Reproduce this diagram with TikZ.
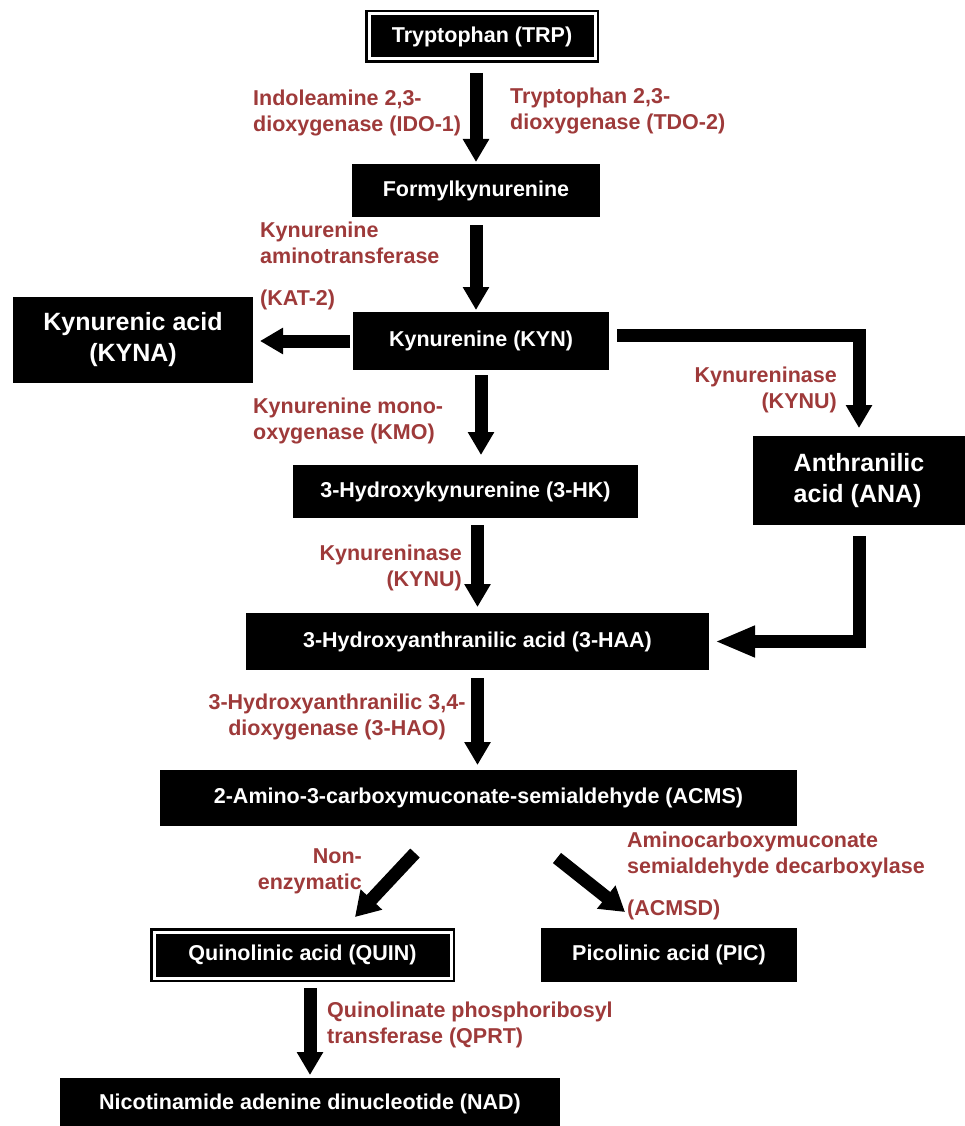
\documentclass[tikz,border=0pt]{standalone}
\usepackage{fontspec}
\setmainfont{Liberation Sans}
\usepackage{tikz}
\usetikzlibrary{arrows.meta}
\definecolor{enzred}{RGB}{158,58,58}

\begin{document}
\begin{tikzpicture}[x=1pt, y=-1pt]
\tikzstyle{process} = [rectangle, fill=black, text=white, inner sep=0pt, outer sep=0pt, font=\fontsize{21.5}{26}\selectfont\bfseries]
\tikzstyle{bigprocess} = [process, font=\fontsize{25}{31}\selectfont\bfseries]
\tikzstyle{endpoint} = [process, draw=black, double=white, line width=2.5pt, double distance=3pt]
\tikzstyle{enzyme} = [text=enzred, inner sep=0pt, font=\fontsize{21.5}{26}\selectfont\bfseries]
\tikzstyle{arrow} = [draw, line width=13pt, -{Triangle[width=25pt,length=23pt]}]

\useasboundingbox (0,0) rectangle (965,1126);

\node (trp) [endpoint, minimum width=226pt, minimum height=45pt] at (482,36.5) {Tryptophan (TRP)};
\node (formyl) [process, minimum width=248pt, minimum height=53pt] at (476,190.5) {Formylkynurenine};
\node (kyn) [process, minimum width=256pt, minimum height=58pt] at (481,341) {Kynurenine (KYN)};
\node (kyna) [bigprocess, minimum width=240pt, minimum height=86pt, align=center] at (133,340) {Kynurenic acid\\(KYNA)};
\node (hk) [process, minimum width=345pt, minimum height=53pt] at (465.5,491.5) {3-Hydroxykynurenine (3-HK)};
\node (ana) [bigprocess, minimum width=212pt, minimum height=89pt, align=left] at (859,480.5) {Anthranilic\\acid (ANA)};
\node (haa) [process, minimum width=463pt, minimum height=57pt] at (477.5,641.5) {3-Hydroxyanthranilic acid (3-HAA)};
\node (acms) [process, minimum width=637pt, minimum height=56pt] at (478.5,798) {2-Amino-3-carboxymuconate-semialdehyde (ACMS)};
\node (quin) [endpoint, minimum width=297pt, minimum height=46pt] at (302.5,955) {Quinolinic acid (QUIN)};
\node (pic) [process, minimum width=256pt, minimum height=54pt] at (669,955) {Picolinic acid (PIC)};
\node (nad) [process, minimum width=500pt, minimum height=52pt] at (310,1104) {Nicotinamide adenine dinucleotide (NAD)};

% enzymes
\node (ido) [enzyme, anchor=west, align=left] at (253,113) {Indoleamine 2,3-\\dioxygenase (IDO-1)};
\node (tdo) [enzyme, anchor=west, align=left] at (510,111) {Tryptophan 2,3-\\dioxygenase (TDO-2)};
\node (kat) [enzyme, anchor=west, align=left] at (260,266) {Kynurenine\\aminotransferase\\[16pt](KAT-2)};
\node (kmo) [enzyme, anchor=west, align=left] at (253,421) {Kynurenine mono-\\oxygenase (KMO)};
\node (kynuA) [enzyme, anchor=east, align=right] at (837,390) {Kynureninase\\(KYNU)};
\node (kynuB) [enzyme, anchor=east, align=right] at (462,568) {Kynureninase\\(KYNU)};
\node (hao) [enzyme, align=center] at (337,717) {3-Hydroxyanthranilic 3,4-\\dioxygenase (3-HAO)};
\node (nonenz) [enzyme, anchor=east, align=right] at (362,871) {Non-\\enzymatic};
\node (acmsd) [enzyme, anchor=west, align=left] at (627,876) {Aminocarboxymuconate\\semialdehyde decarboxylase\\[16pt](ACMSD)};
\node (qprt) [enzyme, anchor=west, align=left] at (327,1025) {Quinolinate phosphoribosyl\\transferase (QPRT)};

% arrows
\draw [arrow, shorten <=14pt, shorten >=2pt] (trp.south -| formyl.north) -- (formyl.north);
\draw [arrow, shorten <=8pt, shorten >=2pt] (formyl.south) -- (formyl.south |- kyn.north);
\draw [arrow, shorten <=3pt, shorten >=7pt] (kyn.west) -- (kyn.west -| kyna.east);
\draw [arrow, shorten <=8pt, shorten >=8pt] ([yshift=6pt]kyn.east) -| (ana.north);
\draw [arrow, shorten <=5pt, shorten >=10pt] (kyn.south) -- (kyn.south |- hk.north);
\draw [arrow, shorten <=7pt, shorten >=6pt] (hk.south -| haa.north) -- (haa.north);
\draw [arrow, shorten <=11pt, shorten >=6pt, -{Triangle[width=29pt,length=40pt]}] (ana.south) |- (haa.east);
\draw [arrow, shorten <=8pt, shorten >=5pt] (haa.south) -- (haa.south |- acms.north);
\draw [arrow, -{Triangle[width=28pt,length=24pt]}] ([xshift=-63.5pt,yshift=-27pt]acms.south) -- ([xshift=52.5pt,yshift=15pt]quin.north);
\draw [arrow, -{Triangle[width=28pt,length=24pt]}] ([xshift=78.5pt,yshift=-32pt]acms.south) -- ([xshift=-44pt,yshift=16pt]pic.north);
\draw [arrow, shorten <=10pt, shorten >=3pt] (nad.north |- quin.south) -- (nad.north);

\end{tikzpicture}
\end{document}
